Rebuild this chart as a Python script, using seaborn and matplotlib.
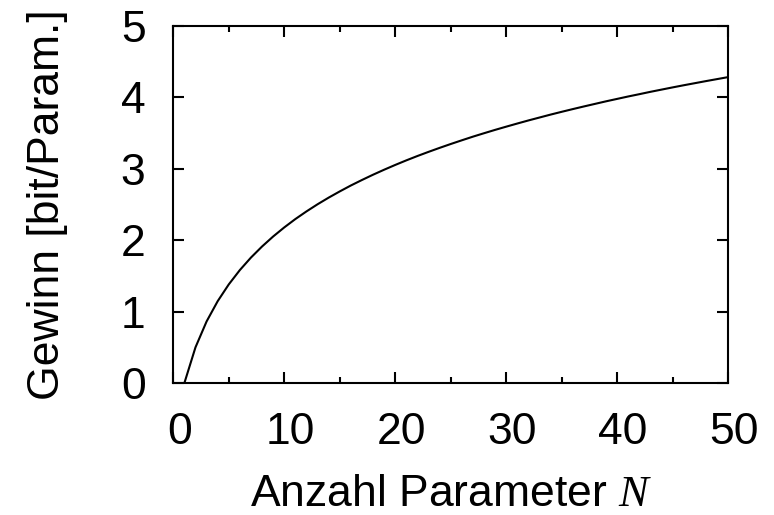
import matplotlib
matplotlib.use("Agg")
import matplotlib.pyplot as plt
from matplotlib.ticker import MultipleLocator
from matplotlib.transforms import ScaledTranslation
import seaborn as sns
import pandas as pd

# Number of parameters and the information gain per parameter (bit)
n_params = list(range(1, 51))
gain_bits = [
    0.000, 0.500, 0.862, 1.146, 1.381, 1.582, 1.757, 1.912, 2.052, 2.179,
    2.296, 2.403, 2.503, 2.596, 2.683, 2.766, 2.843, 2.917, 2.987, 3.054,
    3.118, 3.179, 3.237, 3.293, 3.347, 3.399, 3.450, 3.498, 3.545, 3.590,
    3.634, 3.677, 3.718, 3.759, 3.798, 3.836, 3.873, 3.909, 3.945, 3.979,
    4.013, 4.045, 4.078, 4.109, 4.140, 4.170, 4.199, 4.228, 4.256, 4.284,
]
x_ticks = [0, 10, 20, 30, 40, 50]
y_ticks = [0, 1, 2, 3, 4, 5]
x_label = "Anzahl Parameter $N$"
y_label = "Gewinn [bit/Param.]"

sns.set_theme(style="ticks")
plt.rcParams["font.family"] = ["Liberation Sans", "DejaVu Sans"]
plt.rcParams["mathtext.fontset"] = "custom"
plt.rcParams["mathtext.rm"] = "Liberation Sans"
plt.rcParams["mathtext.it"] = "Liberation Serif:italic"
plt.rcParams["text.color"] = "black"
plt.rcParams["axes.labelcolor"] = "black"
plt.rcParams["xtick.color"] = "black"
plt.rcParams["ytick.color"] = "black"

df = pd.DataFrame({"N": n_params, "gain": gain_bits})

fig = plt.figure(figsize=(7.74, 5.15), dpi=100)
ax = fig.add_axes([0.2239, 0.2563, 0.7167, 0.6932])

sns.lineplot(data=df, x="N", y="gain", ax=ax, color="black", linewidth=1.5)

ax.set_xlim(0, 50)
ax.set_ylim(0, 5)
ax.set_xticks(x_ticks)
ax.set_yticks(y_ticks)
ax.xaxis.set_minor_locator(MultipleLocator(5))

for side in ax.spines.values():
    side.set_visible(True)
    side.set_color("black")
    side.set_linewidth(1.5)

ax.tick_params(which="both", direction="in", top=True, right=True,
               color="black", labelcolor="black", width=1.5)
ax.tick_params(which="major", length=8, labelsize=32)
ax.tick_params(axis="x", which="major", pad=21)
ax.tick_params(axis="y", which="major", pad=20)
ax.tick_params(which="minor", length=4.5)

# nudge the x tick numbers slightly to the right
shift = ScaledTranslation(6 / 100, 0, fig.dpi_scale_trans)
for lbl in ax.get_xticklabels():
    lbl.set_transform(lbl.get_transform() + shift)

ax.set_xlabel(x_label, fontsize=32, labelpad=15)
ax.set_ylabel(y_label, fontsize=32, labelpad=38)

fig.savefig("out.png", dpi=100)
